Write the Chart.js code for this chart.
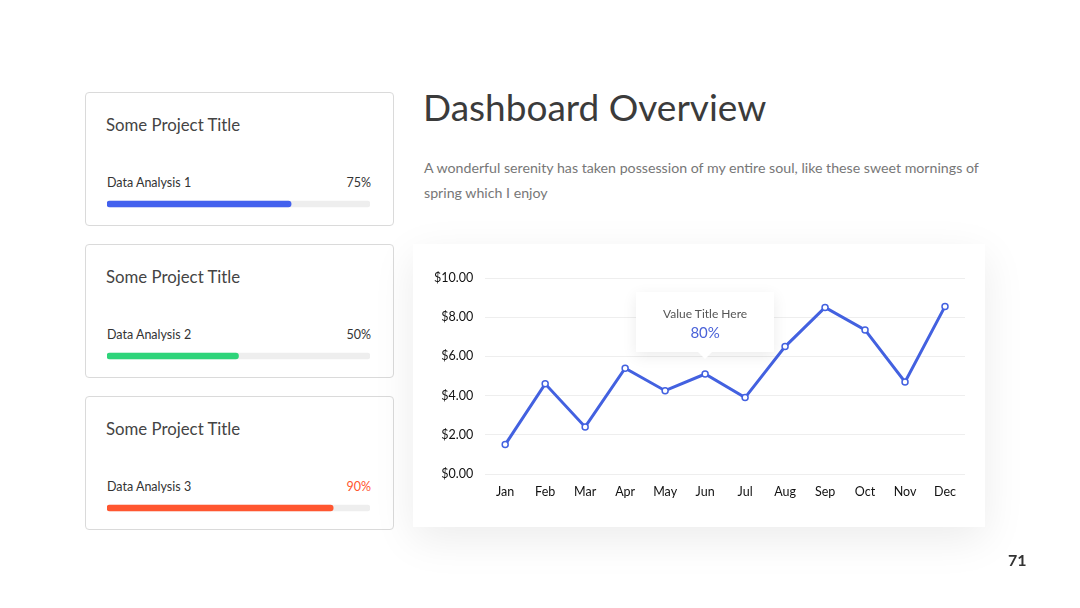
<!DOCTYPE html>
<html>
<head>
<meta charset="utf-8">
<script src="https://cdn.jsdelivr.net/npm/chart.js@4/dist/chart.umd.min.js"></script>
<style>
  body { margin:0; width:1080px; height:608px; background:#fff; font-family: Lato, "Open Sans", sans-serif; position:relative; overflow:hidden; }
  .card { position:absolute; left:85px; width:307px; height:132px; border:1px solid #dadada; border-radius:4px; background:#fff; }
  .card h3 { position:absolute; left:20px; top:21px; margin:0; font-weight:400; font-size:16.8px; color:#444; }
  .card .lbl { position:absolute; left:21px; top:82px; font-size:12.5px; color:#333; }
  .card .pct { position:absolute; right:22px; top:82px; font-size:12.5px; color:#333; }
  .card .bar { position:absolute; left:19px; top:104px; width:265px; height:14px; }
  h1 { position:absolute; left:423px; top:84px; margin:0; font-weight:400; font-size:37px; color:#3b3b3b; }
  .sub { position:absolute; left:424px; top:155px; width:580px; font-size:14.2px; line-height:25px; color:#777; }
  .chartcard { position:absolute; left:413px; top:244px; width:572px; height:283px; background:#fff; box-shadow:0 12px 40px rgba(0,0,0,0.08); }
  .tip { position:absolute; width:138px; height:60px; background:#fff; box-shadow:0 4px 14px rgba(0,0,0,0.08); text-align:center; }
  .tip:after { content:""; position:absolute; left:62px; bottom:-7px; border-left:7px solid transparent; border-right:7px solid transparent; border-top:7px solid #fff; }
  .tip .t1 { margin-top:14px; font-size:12px; color:#555; }
  .tip .t2 { margin-top:2px; font-size:15px; color:#4a62d8; }
  .num { position:absolute; left:1008px; top:550px; font-size:16px; font-weight:700; color:#333; }
</style>
</head>
<body>
<div id="cards"></div>
<h1>Dashboard Overview</h1>
<div class="sub">A wonderful serenity has taken possession of my entire soul, like these sweet mornings of spring which I enjoy</div>
<div class="chartcard"><canvas id="line-chart" width="572" height="283"></canvas></div>
<div class="tip" id="tip"><div class="t1">Value Title Here</div><div class="t2">80%</div></div>
<div class="num">71</div>
<script>
var months = ["Jan","Feb","Mar","Apr","May","Jun","Jul","Aug","Sep","Oct","Nov","Dec"];
var prices = [1.5, 4.6, 2.4, 5.4, 4.25, 5.1, 3.9, 6.5, 8.5, 7.35, 4.7, 8.55];
var yTicks = [0, 2, 4, 6, 8, 10];

var projectLabels = ["Data Analysis 1", "Data Analysis 2", "Data Analysis 3"];
var projectPct = ["75%", "50%", "90%"];
var projectFill = [70, 50, 86];
var projectColors = ["#4361ee", "#2ed47a", "#ff5630"];
var cardTops = [92, 244, 396];

var cardsEl = document.getElementById("cards");
projectLabels.forEach(function (label, i) {
    var card = document.createElement("div");
    card.className = "card";
    card.style.top = cardTops[i] + "px";
    card.innerHTML = '<h3>Some Project Title</h3><div class="lbl">' + label + '</div>' +
        '<div class="pct" style="color:' + (i == 2 ? '#ff5630' : '#333') + '">' + projectPct[i] + '</div>' +
        '<div class="bar"><canvas width="265" height="14"></canvas></div>';
    cardsEl.appendChild(card);
    new Chart(card.querySelector("canvas"), {
        type: "bar",
        data: {
            labels: [""],
            datasets: [
                { data: [projectFill[i]], backgroundColor: projectColors[i], borderRadius: 4, borderSkipped: false, order: 1, barThickness: 6 },
                { data: [100], backgroundColor: "#eeeeee", borderRadius: 4, borderSkipped: false, order: 2, barThickness: 6 }
            ]
        },
        options: {
            indexAxis: "y", responsive: false, animation: false,
            layout: { padding: { left: 2, right: 0 } },
            plugins: { legend: { display: false }, tooltip: { enabled: false } },
            scales: {
                x: { display: false, min: 0, max: 100 },
                y: { display: false, stacked: false }
            },
            datasets: { bar: { grouped: false } }
        }
    });
});

var ctx = document.getElementById("line-chart");
var chartGraph = new Chart(ctx, {
    type: "line",
    data: {
        labels: months,
        datasets: [{
            data: prices,
            borderWidth: 3,
            borderColor: "#4361e0",
            backgroundColor: "#fff",
            pointRadius: 3,
            pointBorderWidth: 1.5,
            pointBackgroundColor: "#fff",
            pointBorderColor: "#4361e0",
            tension: 0
        }]
    },
    options: {
        responsive: false,
        animation: false,
        layout: { padding: { left: 9, right: 20, top: 34, bottom: 26 } },
        plugins: { legend: { display: false }, tooltip: { enabled: false } },
        scales: {
            x: {
                offset: true,
                grid: { display: false },
                border: { display: false },
                ticks: { color: "#111", font: { family: "Lato", size: 12.5 }, padding: 2 }
            },
            y: {
                min: 0, max: 10,
                afterBuildTicks: function (axis) { axis.ticks = yTicks.map(function (v) { return { value: v }; }); },
                grid: { color: "#eeeeee", drawTicks: false },
                border: { display: false },
                ticks: {
                    color: "#111", font: { family: "Lato", size: 12.5 }, padding: 12,
                    callback: function (v) { return "$" + v.toFixed(2); }
                }
            }
        }
    }
});

// place the callout above Jun
var jx = chartGraph.scales.x.getPixelForValue(5);
var tip = document.getElementById("tip");
tip.style.left = (413 + jx - 69) + "px";
tip.style.top = "292px";
</script>
</body>
</html>
